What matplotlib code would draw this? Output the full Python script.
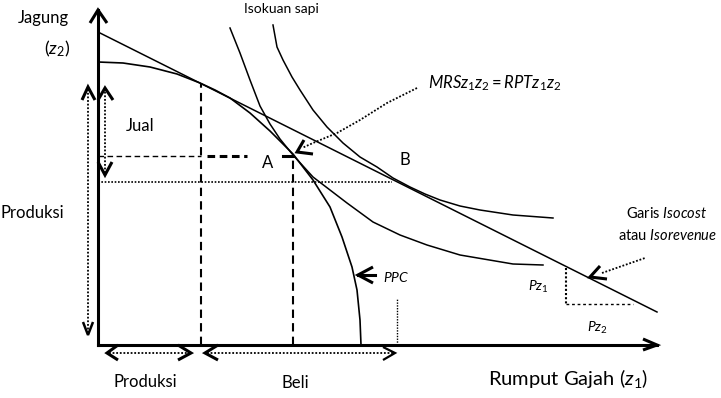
import matplotlib
matplotlib.use("Agg")
import matplotlib.pyplot as plt

plt.rcParams['font.family'] = ['Lato', 'DejaVu Sans']
plt.rcParams['mathtext.fontset'] = 'custom'
plt.rcParams['mathtext.rm'] = 'Lato'
plt.rcParams['mathtext.it'] = 'Lato:italic'
plt.rcParams['mathtext.bf'] = 'Lato:bold'

# ---- schematic data (origin at the axis corner) ----
isocost_x = [0, 559]
isocost_y = [313, 33]

ppc_x = [0, 25, 52, 79, 102, 117, 132, 152, 172, 195, 215, 232, 244, 254, 259, 262, 263]
ppc_y = [283, 282, 278, 271, 262, 255, 247, 232, 214, 191, 165, 138, 108, 78, 55, 25, 0]

iso_in_x = [132, 142, 152, 162, 172, 182, 195, 215, 232, 249, 275, 302, 329, 362, 415, 445]
iso_in_y = [317, 292, 265, 239, 221, 206, 190, 168, 155, 142, 123, 110, 100, 90, 81, 80]

iso_out_x = [175, 179, 185, 194, 202, 215, 229, 245, 262, 279, 295, 312, 327, 342, 362, 382, 415, 455]
iso_out_y = [320, 298, 285, 268, 255, 235, 218, 202, 188, 178, 167, 158, 151, 145, 139, 135, 130, 127]

point_prod = (103, 262)   # production point (tangency of PPC and isocost)
point_A = (195, 190)
point_B = (294, 163)
price_tri_x = [468, 535]
price_tri_y = [77, 41]

fig = plt.figure(figsize=(7.21, 3.98), dpi=100)
ax = fig.add_axes([0, 0, 1, 1])
ax.set_xlim(-98, 623)
ax.set_ylim(-53, 345)
ax.axis('off')

K = 'black'

def chevron(tip, a1, a2, lw=2.2):
    ax.plot([a1[0], tip[0], a2[0]], [a1[1], tip[1], a2[1]], color=K, lw=lw,
            solid_joinstyle='miter', solid_capstyle='butt')

# axes
ax.plot([0, 0], [0, 335], color=K, lw=2.2)
ax.plot([0, 559], [0, 0], color=K, lw=2.2)
chevron((0, 335), (-8, 322), (9, 322))
chevron((559, 0), (545, 6), (545, -5))

# curves
ax.plot(isocost_x, isocost_y, color=K, lw=1.1)
ax.plot(ppc_x, ppc_y, color=K, lw=1.2)
ax.plot(iso_in_x, iso_in_y, color=K, lw=1.1)
ax.plot(iso_out_x, iso_out_y, color=K, lw=1.1)

# dashed guide lines
dash = (0, (4, 2.5))
ax.plot([point_prod[0], point_prod[0]], [0, point_prod[1]], color=K, lw=1.5, ls=dash)
ax.plot([point_A[0], point_A[0]], [0, point_A[1]], color=K, lw=1.5, ls=dash)
ax.plot([0, point_prod[0]], [point_A[1] - 1, point_A[1] - 1], color=K, lw=1.0, ls=(0, (4, 2.5)))
ax.plot([109, 149], [point_A[1] - 1, point_A[1] - 1], color=K, lw=2.2, ls=(0, (2.5, 1.5)))
ax.plot([185, point_A[0]], [point_A[1] - 1, point_A[1] - 1], color=K, lw=2.2)

# dotted guide lines
dot = (0, (1, 1))
ax.plot([0, point_B[0]], [point_B[1], point_B[1]], color=K, lw=1.2, ls=dot)
ax.plot([299, 299], [0, 47], color=K, lw=1.0, ls=dot)
ax.plot([price_tri_x[0], price_tri_x[0]], [price_tri_y[0], price_tri_y[1]], color=K, lw=1.5, ls=dot)
ax.plot([price_tri_x[0], price_tri_x[1]], [price_tri_y[1], price_tri_y[1]], color=K, lw=1.0, ls=(0, (2, 2)))

# left arrows
ax.plot([-10, -10], [12, 256], color=K, lw=1.3, ls=dot)
chevron((-10, 258), (-16, 245), (-3, 245))
chevron((-10, 10), (-15, 23), (-5, 23), lw=1.8)
ax.plot([7, 7], [172, 255], color=K, lw=1.3, ls=dot)
chevron((7, 257), (0, 245), (15, 245))
chevron((7, 170), (0, 183), (14, 183))

# bottom arrows
ax.plot([11, 91], [-8, -8], color=K, lw=1.3, ls=dot)
chevron((9, -8), (20, 0), (20, -15))
chevron((93, -8), (80, 0), (80, -15))
ax.plot([109, 295], [-8, -8], color=K, lw=1.3, ls=dot)
chevron((107, -8), (120, 0), (120, -15))
chevron((297, -8), (285, -2), (285, -15), lw=1.6)

# PPC pointer
ax.plot([260, 277], [70, 70], color=K, lw=2.2)
chevron((260, 70), (275, 78), (275, 62))

# MRS pointer
ax.plot([319, 289, 262, 239, 215, 204], [257, 242, 225, 212, 202, 197], color=K, lw=1.3, ls=dot)
chevron((199, 193), (206, 205), (215, 191))

# isocost pointer
ax.plot([504, 547], [72, 87], color=K, lw=1.3, ls=dot)
chevron((492, 68), (502, 79), (509, 66))

# texts
fs = 12
ax.text(-55, 327, "Jagung", fontsize=fs, ha='center', va='center')
ax.text(-41, 296, r"$(z_2)$", fontsize=13, ha='center', va='center')
ax.text(183, 336, "Isokuan sapi", fontsize=10, ha='center', va='center')
ax.text(42, 219, "Jual", fontsize=fs, ha='center', va='center')
ax.text(170, 182, "A", fontsize=fs, ha='center', va='center')
ax.text(307, 185, "B", fontsize=fs, ha='center', va='center')
ax.text(-98, 132, "Produksi", fontsize=fs, ha='left', va='center')
ax.text(330, 262, r"$MRSz_1z_2 = RPTz_1z_2$", fontsize=fs, ha='left', va='center')
ax.text(569, 132, r"Garis $\mathit{Isocost}$", fontsize=10.5, ha='center', va='center')
ax.text(569, 110, r"atau $\mathit{Isorevenue}$", fontsize=10.5, ha='center', va='center')
ax.text(285, 68, r"$PPC$", fontsize=10, ha='left', va='center')
ax.text(430, 58, r"$Pz_1$", fontsize=10, ha='left', va='center')
ax.text(489, 17, r"$Pz_2$", fontsize=10, ha='left', va='center')
ax.text(47, -37, "Produksi", fontsize=fs, ha='center', va='center')
ax.text(197, -38, "Beli", fontsize=fs, ha='center', va='center')
ax.text(390, -33, r"Rumput Gajah $(z_1)$", fontsize=14.5, ha='left', va='center')

fig.savefig("out.png", dpi=100)
